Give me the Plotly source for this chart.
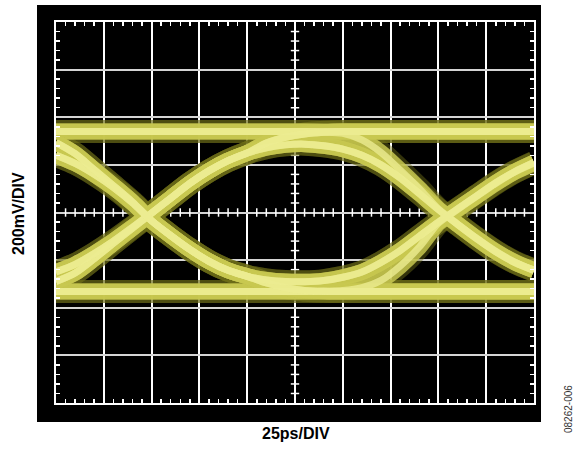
import plotly.graph_objects as go

# ---------------- data ----------------
# time axis in ps (25 ps/div, 10 div), voltage in mV (200 mV/div, 8 div)
T_LEFT = [0, 10, 20, 30, 40, 50, 60, 70, 80, 90, 100]
T_MID = [100, 110, 120, 130, 140, 150]
T_RIGHT = [150, 160, 170, 180, 190, 200, 210, 220, 230, 240, 250]

HIGH_LEVEL = 340
LOW_LEVEL = -332

# first crossing (~48 ps)
LEFT_RISE_FROM_DIP = [-250, -218, -172, -120, -62, -2, 60, 122, 175, 218, 250]
LEFT_RISE_FROM_LOW = [-290, -254, -194, -129, -66, -3, 60, 122, 175, 218, 250]
LEFT_FALL_FROM_PEAK = [240, 206, 160, 105, 40, -35, -97, -155, -205, -243, -268]
LEFT_FALL_FROM_HIGH = [294, 247, 180, 113, 44, -34, -97, -155, -205, -243, -268]

# eye centre
MID_PEAK = [250, 272, 284, 287, 280, 266]
MID_RISE_HOLD = [250, 292, 316, 330, 337, 340]
MID_HOLD_FALL = [340, 340, 340, 340, 338, 332]
MID_DIP = [-268, -283, -290, -291, -286, -272]
MID_FALL_HOLD = [-268, -296, -316, -327, -331, -332]
MID_HOLD_RISE = [-332, -332, -332, -332, -331, -328]

# second crossing (~204 ps)
RIGHT_FALL_FROM_PEAK = [266, 240, 200, 145, 80, 12, -50, -110, -165, -210, -243]
RIGHT_FALL_FROM_HIGH = [332, 305, 252, 178, 100, 15, -48, -108, -163, -208, -242]
RIGHT_RISE_FROM_DIP = [-272, -250, -210, -160, -100, -40, 15, 70, 125, 172, 210]
RIGHT_RISE_FROM_LOW = [-328, -316, -285, -225, -145, -45, 12, 68, 122, 170, 207]

X_LABEL = "25ps/DIV"
Y_LABEL = "200mV/DIV"
FIG_ID = "08262-006"

# ---------------- assemble traces per bit pattern ----------------
T_ALL = T_LEFT + T_MID[1:] + T_RIGHT[1:]


def left_seg(bm1, b0, b1):
    if b0 == b1:
        return [HIGH_LEVEL if b0 else LOW_LEVEL] * len(T_LEFT)
    if b1 == 1:
        return LEFT_RISE_FROM_DIP if bm1 == 1 else LEFT_RISE_FROM_LOW
    return LEFT_FALL_FROM_PEAK if bm1 == 0 else LEFT_FALL_FROM_HIGH


MID_SEGS = {
    (0, 1, 0): MID_PEAK, (0, 1, 1): MID_RISE_HOLD,
    (1, 1, 0): MID_HOLD_FALL, (1, 1, 1): [HIGH_LEVEL] * len(T_MID),
    (1, 0, 1): MID_DIP, (1, 0, 0): MID_FALL_HOLD,
    (0, 0, 1): MID_HOLD_RISE, (0, 0, 0): [LOW_LEVEL] * len(T_MID),
}


def right_seg(b0, b1, b2):
    if b1 == b2:
        return [HIGH_LEVEL if b1 else LOW_LEVEL] * len(T_RIGHT)
    if b1 == 1:
        return RIGHT_FALL_FROM_PEAK if b0 == 0 else RIGHT_FALL_FROM_HIGH
    return RIGHT_RISE_FROM_DIP if b0 == 1 else RIGHT_RISE_FROM_LOW


paths = []
for bm1 in (0, 1):
    for b0 in (0, 1):
        for b1 in (0, 1):
            for b2 in (0, 1):
                p = tuple(left_seg(bm1, b0, b1) + MID_SEGS[(b0, b1, b2)][1:]
                          + right_seg(b0, b1, b2)[1:])
                if p not in paths:
                    paths.append(p)

fig = go.Figure()

# small tick marks along the centre cross-hair
cx = [5 * i for i in range(51) if i % 5 != 0]
cy = [40 * i for i in range(-20, 21) if i % 5 != 0]
fig.add_trace(go.Scatter(x=[125] * len(cy), y=cy, mode="markers",
                         marker=dict(symbol="line-ew", size=6,
                                     line=dict(color="white", width=1.5)),
                         hoverinfo="skip", showlegend=False))
fig.add_trace(go.Scatter(x=cx, y=[0] * len(cx), mode="markers",
                         marker=dict(symbol="line-ns", size=6,
                                     line=dict(color="white", width=1.5)),
                         hoverinfo="skip", showlegend=False))

layers = [("rgba(110,110,25,0.45)", 23),
          ("rgba(200,200,80,0.85)", 16),
          ("rgba(236,236,145,0.8)", 7)]
for color, width in layers:
    for p in paths:
        fig.add_trace(go.Scatter(x=T_ALL, y=list(p), mode="lines",
                                 line=dict(color=color, width=width,
                                           shape="spline", smoothing=0.8),
                                 hoverinfo="skip", showlegend=False))

L, R, T, B = 56, 45, 22, 46
W, H = 579, 449
pw, ph = W - L - R, H - T - B


def px(xp):
    return (xp - L) / pw


def py(yp):
    return (H - B - yp) / ph


fig.add_shape(type="rect", xref="paper", yref="paper",
              x0=px(37), x1=px(541), y0=py(422), y1=py(5),
              fillcolor="black", line=dict(width=0), layer="below")

fig.update_xaxes(range=[0, 250], dtick=25, tick0=0, showgrid=True,
                 gridcolor="white", gridwidth=2, zeroline=False,
                 showticklabels=False, ticks="",
                 showline=True, linecolor="white", linewidth=2, mirror="ticks",
                 minor=dict(dtick=5, tick0=0, ticks="inside", ticklen=4,
                            tickcolor="white", tickwidth=1.5, showgrid=False),
                 fixedrange=True)
fig.update_yaxes(range=[-800, 800], dtick=200, tick0=0, showgrid=True,
                 gridcolor="#d4d4d4", gridwidth=2, zeroline=False,
                 showticklabels=False, ticks="",
                 showline=True, linecolor="white", linewidth=2, mirror="ticks",
                 minor=dict(dtick=40, tick0=0, ticks="inside", ticklen=4,
                            tickcolor="white", tickwidth=1.5, showgrid=False),
                 fixedrange=True)

font_b = "Liberation Sans, Arial, sans-serif"
fig.add_annotation(text="<b>" + Y_LABEL + "</b>", xref="paper", yref="paper",
                   x=px(18), y=py(214), textangle=-90, showarrow=False,
                   xanchor="center", yanchor="middle",
                   font=dict(family=font_b, size=16, color="black"))
fig.add_annotation(text="<b>" + X_LABEL + "</b>", xref="paper", yref="paper",
                   x=px(296), y=py(433), showarrow=False,
                   xanchor="center", yanchor="middle",
                   font=dict(family=font_b, size=16, color="black"))
fig.add_annotation(text=FIG_ID, xref="paper", yref="paper",
                   x=px(568), y=py(409), textangle=-90, showarrow=False,
                   xanchor="center", yanchor="middle",
                   font=dict(family=font_b, size=10, color="#333333"))

fig.update_layout(width=W, height=H, margin=dict(l=L, r=R, t=T, b=B),
                  paper_bgcolor="white", plot_bgcolor="black",
                  showlegend=False)

fig.write_html("out.html",
               config={"displayModeBar": False, "staticPlot": True},
               post_script="document.body.style.margin='0';"
                           "document.body.style.padding='0';")
